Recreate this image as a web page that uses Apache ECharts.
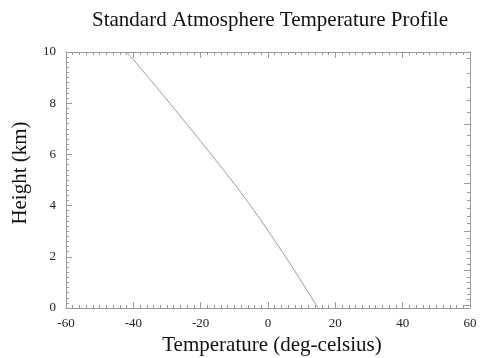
<!DOCTYPE html>
<html>
<head>
<meta charset="utf-8">
<script src="https://cdn.jsdelivr.net/npm/echarts@6/dist/echarts.min.js"></script>
<style>html,body{margin:0;padding:0;background:#fff}#c{width:480px;height:358px}</style>
</head>
<body>
<div id="c"></div>
<script>
// Data
var heights = [0, 1, 2, 3, 4, 5, 6, 7, 8, 9, 10];
var temperatures = [14.9, 10.1, 5.2, 0.1, -5.2, -10.9, -16.9, -23.0, -29.2, -35.5, -42];
// Right-hand axis: pressure ticks (hPa), major every 150, minor every 25
var pressureMajor = [400, 550, 700, 850, 1000];
var pressureMinor = [275, 300, 325, 350, 375, 425, 450, 475, 500, 525, 575, 600, 625, 650, 675, 725, 750, 775, 800, 825, 875, 900, 925, 950, 975];

function pToH(p) { return 44.3308 * (1 - Math.pow(p / 1013.25, 0.190263)); }

var axisColor = '#9a9a9a';
var font = '"Liberation Serif", "DejaVu Serif", serif';

var chart = echarts.init(document.getElementById('c'), null, {renderer: 'canvas'});
var lineSt = {show: true, onZero: false, lineStyle: {color: axisColor, width: 1}};
var xBase = {
  type: 'value', min: -60, max: 60, interval: 20,
  axisLine: lineSt,
  axisTick: {show: true, inside: true, length: 6, lineStyle: {color: axisColor}},
  minorTick: {show: true, splitNumber: 10, length: 3, lineStyle: {color: axisColor}},
  splitLine: {show: false}, minorSplitLine: {show: false}
};
var yBase = {
  type: 'value', min: 0, max: 10, interval: 2,
  axisLine: lineSt,
  axisTick: {show: true, inside: true, length: 6, lineStyle: {color: axisColor}},
  minorTick: {show: true, splitNumber: 10, length: 3, lineStyle: {color: axisColor}},
  splitLine: {show: false}, minorSplitLine: {show: false}
};

chart.setOption({
  animation: false,
  backgroundColor: '#fff',
  title: {
    text: 'Standard Atmosphere Temperature Profile',
    left: 265, top: 5, textAlign: 'center',
    textStyle: {fontFamily: font, fontSize: 21, fontWeight: 'normal', color: '#111'}
  },
  grid: {left: 66, right: 10, top: 52, bottom: 50, outerBoundsMode: 'none', containLabel: false},
  xAxis: [
    Object.assign({}, xBase, {
      position: 'bottom',
      name: 'Temperature (deg-celsius)', nameLocation: 'middle', nameGap: 27,
      nameTextStyle: {fontFamily: font, fontSize: 21, color: '#111', padding: [0, 0, 0, 8]},
      axisLabel: {fontFamily: font, fontSize: 13, color: '#222', margin: 9}
    }),
    Object.assign({}, xBase, {position: 'top', axisLabel: {show: false}})
  ],
  yAxis: [
    Object.assign({}, yBase, {
      position: 'left',
      name: 'Height (km)', nameLocation: 'middle', nameGap: 35, nameRotate: 90,
      nameTextStyle: {fontFamily: font, fontSize: 21, color: '#111', padding: [0, 0, 0, 14]},
      axisLabel: {fontFamily: font, fontSize: 13, color: '#222', margin: 10}
    }),
    {
      type: 'value', min: 0, max: 10, position: 'right',
      axisLine: lineSt,
      axisTick: {show: true, inside: true, length: 6, lineStyle: {color: axisColor},
        customValues: pressureMajor.map(pToH)},
      axisLabel: {show: false}, splitLine: {show: false}
    },
    {
      type: 'value', min: 0, max: 10, position: 'right',
      axisLine: {show: false, onZero: false},
      axisTick: {show: true, inside: true, length: 3, lineStyle: {color: axisColor},
        customValues: pressureMinor.map(pToH)},
      axisLabel: {show: false}, splitLine: {show: false}
    }
  ],
  series: [{
    type: 'line', xAxisIndex: 0, yAxisIndex: 0,
    data: heights.map(function (h, i) { return [temperatures[i], h]; }),
    smooth: true, showSymbol: false, symbol: 'none',
    lineStyle: {color: '#999', width: 1}
  }]
});
</script>
</body>
</html>
